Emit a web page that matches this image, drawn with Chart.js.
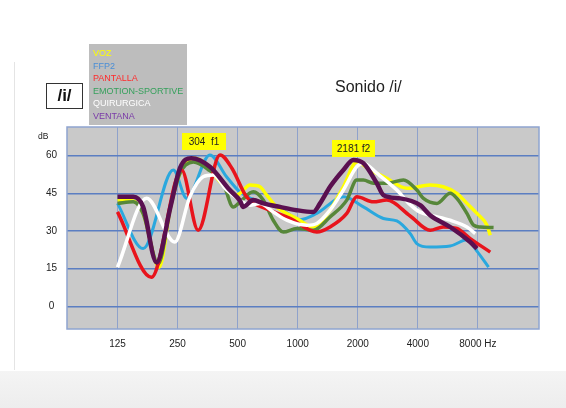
<!DOCTYPE html>
<html>
<head>
<meta charset="utf-8">
<script src="https://cdn.jsdelivr.net/npm/chart.js@4.4.1/dist/chart.umd.min.js"></script>
<style>
  html, body { margin: 0; padding: 0; background: #fff; }
  #wrap { position: relative; width: 566px; height: 408px; overflow: hidden; font-family: "Liberation Sans", Arial, sans-serif; }
  #chart { position: absolute; left: 0; top: 0; }
  .abs { position: absolute; }
  #band { left: 0; top: 371px; width: 566px; height: 37px; background: linear-gradient(#f4f4f4, #ededed); }
  #rule { left: 14px; top: 62px; width: 1px; height: 308px; background: #e4e4e4; }
  #title { left: 335px; top: 78px; font-size: 16px; color: #222; }
  #vowel { left: 46px; top: 83px; width: 35px; height: 24px; border: 1px solid #333; font-weight: bold; font-size: 17px; line-height: 24px; text-align: center; color: #111; }
  #legend { left: 89px; top: 44px; width: 98px; height: 81px; background: #bdbdbd; font-size: 9px; line-height: 12.5px; padding: 3px 0 0 4px; box-sizing: border-box; }
  #db { left: 38px; top: 131px; font-size: 8.5px; color: #222; }
  .tag { background: #ffff00; font-size: 10px; height: 17px; line-height: 17px; text-align: center; color: #222; white-space: pre; }
</style>
</head>
<body>
<div id="wrap">
  <div id="band" class="abs"></div>
  <div id="rule" class="abs"></div>
  <canvas id="chart" width="566" height="408"></canvas>
  <div id="title" class="abs">Sonido /i/</div>
  <div id="vowel" class="abs">/i/</div>
  <div id="legend" class="abs"></div>
  <div id="db" class="abs">dB</div>
  <div class="abs tag" style="left:182px;top:133px;width:44px;">304  f1</div>
  <div class="abs tag" style="left:332px;top:140px;width:43px;">2181 f2</div>
</div>
<script>
// axis ticks
const freqTicks = [125, 250, 500, 1000, 2000, 4000, 8000];
const freqLabels = ['125', '250', '500', '1000', '2000', '4000', '8000 Hz'];
const dbTicks = [0, 15, 30, 45, 60];

const seriesNames = ['VOZ', 'FFP2', 'PANTALLA', 'EMOTION-SPORTIVE', 'QUIRURGICA', 'VENTANA'];

// [Hz, dB]
const voz = [[125,42.3],[150,42],[168,37],[202,15.6],[231,40],[257,53],[300,59],[343,57],[408,49.6],[494,44.3],
  [514,45],[577,48.3],[647,47.6],[699,44.3],[785,39.6],[988,35],[1198,31.6],[1452,38.3],[1694,47.6],[1977,57.5],
  [2306,54.3],[2796,51],[3524,47],[4611,48.3],[5359,47.6],[6275,45],[7048,41],[7909,37],[8878,32.3],[9224,28.3]];
const ffp2 = [[125,41],[168,23],[238,54.3],[278,43],[363,60.3],[440,51.6],[514,45.5],[647,41.6],[815,39],[1027,34.5],
  [1246,37],[1700,43.6],[2133,39.6],[2689,35],[3139,34],[3660,29],[3953,25],[4611,23.6],[5809,24],[7048,26.5],
  [7909,22],[9045,15.6]];
const pantalla = [[125,37.6],[185,11.6],[262,54.3],[317,30.3],[408,60.3],[468,55],[555,43.6],[726,38.3],[915,35],
  [1246,29.6],[1452,31.6],[1762,37],[1977,43.6],[2396,41.6],[2796,42.3],[3660,36],[4611,30.3],[5359,31.6],
  [6275,31],[7322,27],[9224,21.6]];
const emotion = [[125,41],[150,41.6],[168,37],[200,17],[231,40],[257,53],[300,57.5],[363,54],[423,49],[475,39.6],
  [514,41.6],[599,45.6],[672,42.3],[754,34.3],[847,29.6],[988,31],[1198,30.3],[1452,35.6],[1762,42.3],[1977,50.3],
  [2133,50.3],[2396,49],[2796,49],[3388,50.3],[3953,46.3],[4267,43],[4983,41],[5809,45],[6275,43],[7048,37],
  [7606,32.3],[8217,31.6],[9585,31.4]];
const quirurgica = [[125,15.6],[175,43],[242,25.6],[288,43.6],[336,51.6],[377,52.3],[440,46.3],[514,42.3],[577,40.3],
  [647,41],[754,37.6],[881,34.3],[1110,32.3],[1246,33],[1452,38.3],[1694,46.3],[1977,55.6],[2133,57],[2492,53],
  [3139,46.3],[3660,40.5],[4107,37.5],[4611,36.3],[5809,34.3],[7048,31.6],[7755,29]];
const ventana = [[125,43.6],[150,43.6],[168,39.6],[196,17.5],[231,40],[257,55],[293,59],[363,55.6],[457,46.3],[514,42],
  [533,39.6],[599,42.3],[672,41],[815,39.6],[988,38.3],[1198,37.6],[1294,41],[1452,47.6],[1694,54.3],[1901,58.3],
  [2133,57],[2492,49],[2689,44.3],[3261,43],[4107,40.3],[4611,36.3],[5809,31.6],[7322,25.6],[7909,23]];

const lineColors = ['#ffff00', '#2aa8de', '#e8141c', '#57873a', '#ffffff', '#5a1050'];
const textColors = ['#ffff00', '#4a8ed6', '#ff2a2a', '#36a05c', '#ffffff', '#7a3aa8'];
const widths = [3.5, 3, 3.5, 3.5, 3.5, 4.5];
const drawOrder = [5, 6, 3, 4, 2, 1];

// legend box
const leg = document.getElementById('legend');
seriesNames.forEach((n, i) => {
  const d = document.createElement('div');
  d.textContent = n;
  d.style.color = textColors[i];
  leg.appendChild(d);
});

const plotFrame = {
  id: 'plotFrame',
  beforeDraw(chart) {
    const a = chart.chartArea, ctx = chart.ctx;
    ctx.save();
    ctx.fillStyle = '#c9c9c9';
    ctx.fillRect(a.left, a.top, a.right - a.left, a.bottom - a.top);
    ctx.restore();
  },
  beforeDatasetsDraw(chart) {
    const a = chart.chartArea, ctx = chart.ctx;
    ctx.save();
    ctx.strokeStyle = '#8ea4cf';
    ctx.lineWidth = 1.5;
    ctx.strokeRect(a.left, a.top, a.right - a.left, a.bottom - a.top);
    ctx.restore();
  }
};

const all = [voz, ffp2, pantalla, emotion, quirurgica, ventana];

new Chart(document.getElementById('chart'), {
  type: 'line',
  data: {
    datasets: all.map((s, i) => ({
      label: seriesNames[i],
      data: s.map(p => ({ x: p[0], y: p[1] })),
      borderColor: lineColors[i],
      borderWidth: widths[i],
      pointRadius: 0,
      cubicInterpolationMode: 'monotone',
      fill: false,
      order: drawOrder[i]
    }))
  },
  options: {
    responsive: false,
    animation: false,
    layout: { padding: { left: 0, right: 27, top: 127, bottom: 49 } },
    plugins: { legend: { display: false }, tooltip: { enabled: false } },
    scales: {
      x: {
        type: 'logarithmic',
        min: 69.8,
        max: 16190,
        afterBuildTicks: s => { s.ticks = freqTicks.map(v => ({ value: v })); },
        afterFit: s => { s.height = 30; },
        grid: { color: '#8fa2cb', lineWidth: 1, drawTicks: false },
        border: { display: false },
        ticks: {
          autoSkip: false, maxRotation: 0, padding: 9,
          color: '#222', font: { family: 'Liberation Sans', size: 10 },
          callback: (v, i) => freqLabels[i]
        }
      },
      y: {
        type: 'linear',
        min: -9,
        max: 71.4,
        afterBuildTicks: s => { s.ticks = dbTicks.map(v => ({ value: v })); },
        afterFit: s => { s.width = 67; },
        grid: { color: '#5b7ec2', lineWidth: 1.5, drawTicks: false },
        border: { display: false },
        ticks: {
          padding: 10, crossAlign: 'center',
          color: '#222', font: { family: 'Liberation Sans', size: 10 }
        }
      }
    }
  },
  plugins: [plotFrame]
});
</script>
</body>
</html>
